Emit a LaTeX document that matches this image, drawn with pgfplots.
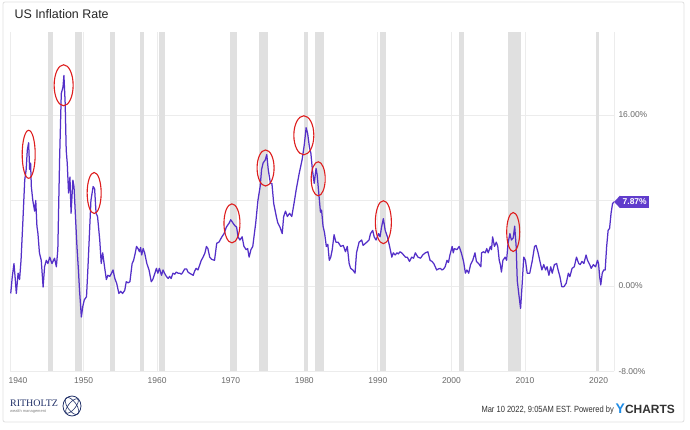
\documentclass[border=0pt]{standalone}
\usepackage{pgfplots}
\pgfplotsset{compat=1.18}
\usepackage{fontspec}
\setmainfont{Liberation Sans}
\newfontfamily\seriffont{Liberation Serif}
\newfontfamily\condfont[FakeStretch=0.84]{Liberation Sans}
\definecolor{linec}{RGB}{84,48,200}
\definecolor{tagc}{RGB}{96,60,204}
\definecolor{bandc}{RGB}{224,224,224}
\definecolor{gridc}{RGB}{236,236,236}
\definecolor{tickc}{RGB}{105,105,105}
\definecolor{circc}{RGB}{222,30,30}
\definecolor{navy}{RGB}{32,48,104}
\definecolor{ycblue}{RGB}{30,140,230}
\pgfdeclareplotmark{ell}{\pgfpathellipse{\pgfpointorigin}{\pgfqpoint{1bp}{0pt}}{\pgfqpoint{0pt}{1bp}}\pgfusepathqstroke}
\pgfplotsset{
  band/.style={fill=bandc, draw=none, forget plot},
  circ/.style 2 args={only marks, color=circc, mark=ell, line width=1.1bp, mark options={xscale=#1, yscale=#2}, forget plot},
}
\begin{document}
\begin{tikzpicture}
\useasboundingbox (0,0) rectangle (690bp,430bp);
\fill[white] (0,0) rectangle (690bp,430bp);
\draw[black!12, line width=0.8bp, rounded corners=2bp] (3bp,8bp) rectangle (684bp,428bp);
\node[anchor=west, font=\fontsize{12.5}{14}\selectfont, text=black!85] at (11bp,416bp) {US Inflation Rate};
\begin{axis}[
  at={(10bp,58.5bp)}, anchor=south west,
  scale only axis, width=604bp, height=339.9bp,
  xmin=1940, xmax=2022.1, ymin=-8, ymax=23.8,
  axis line style={draw=none},
  major tick length=0pt,
  xtick={1940,1950,...,2020},
  xticklabels={\hspace*{16bp}1940,1950,1960,1970,1980,1990,2000,2010,2020},
  ytick={-8,0,8,16},
  grid=major,
  major grid style={gridc, line width=0.8bp},
  yticklabel pos=right,
  /pgf/number format/assume math mode=true,
  yticklabel={\pgfmathprintnumber[fixed,fixed zerofill,precision=2]{\tick}\%},
  ticklabel style={font=\fontsize{8.5}{10}\selectfont, text=tickc},
  xticklabel style={yshift=-3bp},
  yticklabel style={xshift=1bp},
  clip=false,
]
\addplot[band] coordinates {(1945.15,-8) (1945.15,23.8) (1945.8,23.8) (1945.8,-8)} -- cycle;
\addplot[band] coordinates {(1948.9,-8) (1948.9,23.8) (1949.77,23.8) (1949.77,-8)} -- cycle;
\addplot[band] coordinates {(1953.57,-8) (1953.57,23.8) (1954.34,23.8) (1954.34,-8)} -- cycle;
\addplot[band] coordinates {(1957.64,-8) (1957.64,23.8) (1958.28,23.8) (1958.28,-8)} -- cycle;
\addplot[band] coordinates {(1960.22,-8) (1960.22,23.8) (1961.08,23.8) (1961.08,-8)} -- cycle;
\addplot[band] coordinates {(1969.9,-8) (1969.9,23.8) (1970.8,23.8) (1970.8,-8)} -- cycle;
\addplot[band] coordinates {(1973.8,-8) (1973.8,23.8) (1975.1,23.8) (1975.1,-8)} -- cycle;
\addplot[band] coordinates {(1979.9,-8) (1979.9,23.8) (1980.53,23.8) (1980.53,-8)} -- cycle;
\addplot[band] coordinates {(1981.48,-8) (1981.48,23.8) (1982.74,23.8) (1982.74,-8)} -- cycle;
\addplot[band] coordinates {(1990.3,-8) (1990.3,23.8) (1991.06,23.8) (1991.06,-8)} -- cycle;
\addplot[band] coordinates {(2000.97,-8) (2000.97,23.8) (2001.7,23.8) (2001.7,-8)} -- cycle;
\addplot[band] coordinates {(2007.7,-8) (2007.7,23.8) (2009.4,23.8) (2009.4,-8)} -- cycle;
\addplot[band] coordinates {(2019.7,-8) (2019.7,23.8) (2020.1,23.8) (2020.1,-8)} -- cycle;
\addplot[color=linec, line width=1.25bp, line join=round, forget plot] coordinates {
(1940.10,-0.7) (1940.30,0.8) (1940.54,2.1) (1940.72,0.6) (1940.86,-0.7) (1941.10,1.2) (1941.30,0.6)
(1941.50,2.4) (1941.76,6.2) (1942.00,9.9) (1942.20,10.9) (1942.35,12.7) (1942.53,13.4) (1942.67,10.9)
(1942.80,11.5) (1942.90,9.3) (1943.10,8.0) (1943.35,7.0) (1943.50,8.0) (1943.66,5.6) (1943.80,4.9)
(1944.00,3.1) (1944.25,2.4) (1944.50,-0.1) (1944.70,1.8) (1944.93,2.4) (1945.15,2.1) (1945.40,2.7)
(1945.70,2.1) (1946.06,2.6) (1946.30,1.8) (1946.50,3.4) (1946.74,11.8) (1946.97,18.0) (1947.20,18.6)
(1947.33,19.7) (1947.50,17.1) (1947.64,12.7) (1947.78,11.5) (1947.96,8.7) (1948.15,10.2) (1948.30,6.8)
(1948.55,9.9) (1948.70,9.3) (1948.90,6.5) (1949.10,3.7) (1949.30,1.5) (1949.45,-0.4) (1949.70,-2.9)
(1949.90,-1.9) (1950.10,-1.3) (1950.40,-1.0) (1950.60,1.8) (1950.80,4.9) (1951.00,8.0) (1951.30,9.3)
(1951.50,9.1) (1951.70,6.8) (1951.90,6.5) (1952.20,4.3) (1952.40,2.1) (1952.60,3.1) (1952.85,1.8)
(1953.10,0.6) (1953.30,1.0) (1953.57,0.9) (1953.80,1.2) (1954.00,1.5) (1954.25,0.7) (1954.50,0.25)
(1954.80,-0.7) (1955.05,-0.5) (1955.30,-0.7) (1955.60,-0.4) (1955.80,0.4) (1956.05,0.3) (1956.30,0.4)
(1956.60,2.1) (1956.80,2.4) (1957.00,3.0) (1957.20,3.7) (1957.40,3.5) (1957.60,3.2) (1957.75,3.6)
(1957.90,2.9) (1958.10,3.5) (1958.30,3.1) (1958.60,2.1) (1958.90,1.5) (1959.20,0.4) (1959.40,0.6)
(1959.70,1.2) (1959.90,1.65) (1960.10,1.2) (1960.30,1.65) (1960.60,1.0) (1960.80,1.5) (1961.00,1.2)
(1961.25,0.9) (1961.50,0.7) (1961.70,0.9) (1961.90,0.7) (1962.15,1.2) (1962.40,1.1) (1962.60,1.3)
(1962.85,1.2) (1963.05,1.2) (1963.30,1.1) (1963.50,1.3) (1963.75,1.6) (1964.00,1.6) (1964.20,1.3)
(1964.40,1.2) (1964.65,1.1) (1964.90,1.0) (1965.10,1.4) (1965.30,1.65) (1965.55,1.5) (1965.80,2.0)
(1966.00,2.4) (1966.25,2.7) (1966.50,3.1) (1966.70,3.7) (1966.90,3.5) (1967.15,2.7) (1967.40,2.5)
(1967.80,2.4) (1968.10,4.0) (1968.40,4.1) (1968.80,4.6) (1969.10,4.9) (1969.40,5.5) (1969.80,5.9)
(1970.00,6.2) (1970.20,6.0) (1970.50,5.7) (1970.80,5.5) (1971.00,4.6) (1971.25,4.3) (1971.55,4.6)
(1971.80,3.7) (1972.10,3.4) (1972.30,3.5) (1972.50,2.7) (1972.75,3.4) (1973.00,3.7) (1973.40,5.9)
(1973.70,8.0) (1974.00,9.3) (1974.20,10.9) (1974.40,11.5) (1974.70,11.8) (1974.90,12.3) (1975.10,10.9)
(1975.40,9.6) (1975.60,9.6) (1975.85,7.7) (1976.20,6.5) (1976.40,5.9) (1976.70,5.5) (1977.00,4.9)
(1977.20,6.5) (1977.45,7.0) (1977.70,6.5) (1978.00,6.8) (1978.30,6.5) (1978.60,7.7) (1978.90,9.0)
(1979.30,10.5) (1979.70,11.8) (1980.00,13.2) (1980.25,14.8) (1980.45,14.3) (1980.70,13.0) (1980.90,12.4)
(1981.10,10.9) (1981.35,9.6) (1981.60,11.0) (1981.75,10.4) (1981.93,9.0) (1982.20,6.9) (1982.35,7.1)
(1982.55,5.6) (1982.75,5.0) (1983.00,3.7) (1983.20,3.9) (1983.40,2.4) (1983.60,2.7) (1983.80,3.4)
(1984.05,4.8) (1984.30,4.1) (1984.60,4.1) (1984.95,3.7) (1985.30,3.8) (1985.60,3.2) (1985.85,3.7)
(1986.10,2.1) (1986.30,1.65) (1986.60,1.5) (1986.90,1.2) (1987.10,3.1) (1987.45,4.1) (1987.80,4.3)
(1988.00,3.8) (1988.50,4.1) (1988.80,4.3) (1989.00,4.9) (1989.30,5.2) (1989.50,4.6) (1989.75,4.3)
(1990.10,4.9) (1990.30,4.6) (1990.50,5.5) (1990.75,6.3) (1991.00,5.2) (1991.30,4.6) (1991.60,3.7)
(1991.90,2.7) (1992.10,3.1) (1992.35,2.9) (1992.60,3.1) (1992.80,3.0) (1993.00,3.2) (1993.25,3.1)
(1993.50,2.9) (1993.75,2.7) (1994.00,2.7) (1994.30,2.3) (1994.60,2.7) (1994.85,2.6) (1995.10,3.1)
(1995.45,2.7) (1995.80,2.6) (1996.10,2.9) (1996.45,3.1) (1996.80,3.2) (1997.10,2.4) (1997.35,2.3)
(1997.60,2.1) (1997.80,1.8) (1998.00,1.5) (1998.25,1.6) (1998.50,1.65) (1998.70,1.5) (1998.90,1.56)
(1999.15,1.8) (1999.40,2.4) (1999.60,2.2) (1999.80,2.9) (2000.10,3.7) (2000.25,3.1) (2000.40,3.5)
(2000.75,3.4) (2001.05,3.7) (2001.35,3.1) (2001.65,2.3) (2001.90,1.2) (2002.10,1.5) (2002.35,1.2)
(2002.60,2.0) (2002.90,2.4) (2003.20,3.1) (2003.40,2.3) (2003.70,2.1) (2004.00,1.8) (2004.10,3.1)
(2004.35,3.2) (2004.60,3.1) (2004.80,3.5) (2005.00,3.1) (2005.30,3.7) (2005.45,3.4) (2005.60,4.6)
(2005.85,3.7) (2006.10,4.1) (2006.30,3.7) (2006.50,2.4) (2006.65,2.0) (2006.80,1.3) (2007.00,2.4)
(2007.30,2.7) (2007.50,2.4) (2007.70,4.0) (2007.95,4.9) (2008.15,4.3) (2008.40,4.5) (2008.60,5.6)
(2008.80,3.7) (2008.95,0.5) (2009.15,-0.7) (2009.40,-2.1) (2009.60,0.0) (2009.83,2.7) (2010.06,2.4)
(2010.30,1.2) (2010.65,1.2) (2011.00,2.4) (2011.30,3.7) (2011.50,3.8) (2011.75,3.2) (2012.10,2.1)
(2012.30,1.5) (2012.55,2.0) (2012.80,1.5) (2013.00,1.8) (2013.25,1.0) (2013.50,1.8) (2013.70,1.2)
(2014.00,2.0) (2014.30,2.1) (2014.50,1.5) (2014.75,0.87) (2015.00,-0.06) (2015.30,-0.06) (2015.60,0.25)
(2015.90,1.2) (2016.10,0.87) (2016.40,1.65) (2016.70,1.8) (2017.00,2.7) (2017.30,2.1) (2017.50,2.0)
(2017.75,2.3) (2018.00,2.1) (2018.30,2.9) (2018.50,2.4) (2018.80,2.0) (2019.00,1.65) (2019.30,2.0)
(2019.60,1.8) (2019.85,2.4) (2020.00,2.1) (2020.15,0.87) (2020.30,0.1) (2020.50,1.2) (2020.70,1.5)
(2020.90,1.5) (2021.10,3.7) (2021.30,5.2) (2021.50,5.4) (2021.70,6.8) (2021.90,7.7) (2022.10,7.87)
};
\addplot[circ={6.5}{24}] coordinates {(1942.54,12.32)};
\addplot[circ={9.5}{20.5}] coordinates {(1947.29,18.78)};
\addplot[circ={7}{20.5}] coordinates {(1951.44,8.70)};
\addplot[circ={8}{19.5}] coordinates {(1970.17,5.86)};
\addplot[circ={8.5}{18}] coordinates {(1974.74,11.04)};
\addplot[circ={10}{19.5}] coordinates {(1979.94,14.1)};
\addplot[circ={7}{17}] coordinates {(1981.89,10.03)};
\addplot[circ={8}{21.5}] coordinates {(1990.75,5.97)};
\addplot[circ={6.5}{19.5}] coordinates {(2008.4,5.05)};
\draw[gridc, line width=0.8bp] (rel axis cs:1,0) -- (rel axis cs:1,1);
\coordinate (tagpt) at (axis cs:2022.1,7.87);
\end{axis}
\node[anchor=west, fill=tagc, text=white, font=\fontsize{8.5}{10}\selectfont\bfseries, inner xsep=2.5bp, inner ysep=1.5bp, minimum height=12bp] (tag) at ([xshift=6bp]tagpt) {7.87\%};
\fill[tagc] (tagpt) -- (tag.north west) -- (tag.south west) -- cycle;
% footer
\node[anchor=west, font=\seriffont\fontsize{10}{11}\selectfont, text=navy, inner sep=0] at (10bp,27bp) {RITHOLTZ};
\node[anchor=west, font=\fontsize{4}{5}\selectfont, text=black!50, inner sep=0] at (10bp,18.5bp) {wealth management};
\draw[navy, line width=0.8bp] (72bp,24bp) ellipse (9bp and 10bp);
\draw[navy, line width=0.6bp, rotate around={35:(72bp,24bp)}] (72bp,24bp) ellipse (4.5bp and 10bp);
\draw[navy, line width=0.6bp, rotate around={-40:(72bp,24bp)}] (72bp,24bp) ellipse (3.5bp and 9bp);
\node[anchor=east, font=\condfont\fontsize{9}{10}\selectfont, text=black!80, inner sep=0] at (614bp,20bp) {Mar 10 2022, 9:05AM EST. Powered by};
\node[anchor=west, font=\fontsize{12}{13}\selectfont\bfseries, text=black!80, inner sep=0] at (615.5bp,21bp) {\textcolor{ycblue}{\fontsize{14}{14}\selectfont Y}CHARTS};
\end{tikzpicture}
\end{document}
